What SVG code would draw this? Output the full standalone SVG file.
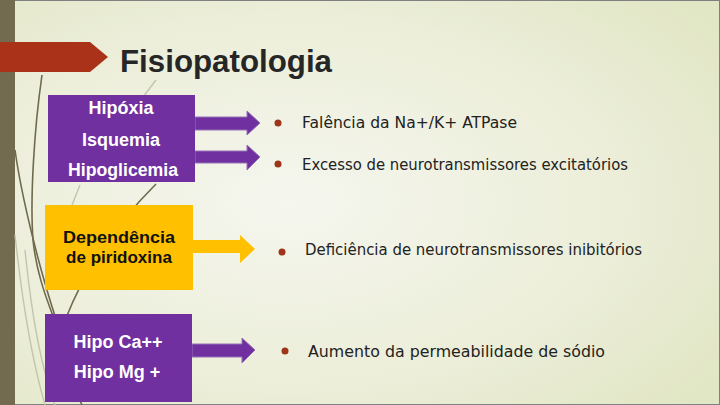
<svg xmlns="http://www.w3.org/2000/svg" width="720" height="405" viewBox="0 0 720 405">
<defs>
<radialGradient id="bg" cx="0.4" cy="0.5" r="0.75">
<stop offset="0" stop-color="#f5f6ee"/>
<stop offset="0.6" stop-color="#eceed9"/>
<stop offset="1" stop-color="#e1e6c4"/>
</radialGradient>
<style>
.box-p{fill:#7030a0}
.box-y{fill:#ffc000}
.arr-p{fill:#7030a0;stroke:#9670b8;stroke-width:1}
.arr-y{fill:#ffc000}
.lbl-w{font-family:"Liberation Sans",Arial,sans-serif;font-weight:bold;font-size:18px;fill:#ffffff;text-anchor:middle}
.lbl-k{font-family:"Liberation Sans",Arial,sans-serif;font-weight:bold;font-size:17px;fill:#111111;text-anchor:middle}
.bul{fill:#9e3418}
.btxt{font-family:"DejaVu Sans","Liberation Sans",sans-serif;font-size:15px;fill:#222222}
.wisp{fill:none;stroke:#6f6a4c;stroke-width:1.6}
.wisp2{fill:none;stroke:#c2c5ab;stroke-width:1.4}
</style>
</defs>
<rect x="0" y="0" width="720" height="405" fill="url(#bg)"/>
<rect x="0.5" y="0.5" width="719" height="404" fill="none" stroke="#808080" stroke-width="1"/>
<rect x="0" y="0" width="15" height="405" fill="#736b50"/>
<g id="wisps">
<path class="wisp2" d="M15,235 C22,300 32,360 45,405"/>
<path class="wisp2" d="M25,250 C32,320 42,370 55,405"/>
<path class="wisp2" d="M156,80 L143,97"/>
<path class="wisp2" d="M80,185 L72,205"/>
<path class="wisp" d="M42,75 C34,130 30,200 33,240 C36,270 45,295 53,316"/>
<path class="wisp" d="M15,150 C22,200 40,270 55,316"/>
<path class="wisp" d="M156,184 C115,225 85,270 66,318 C60,345 70,380 82,405"/>
</g>
<g id="title">
<path d="M0,42 L90,42 L108,57 L90,72 L0,72 Z" fill="#a93218"/>
<text x="120" y="72" font-family="Liberation Sans,Arial,sans-serif" font-weight="bold" font-size="31" fill="#262626" textLength="212" lengthAdjust="spacingAndGlyphs">Fisiopatologia</text>
</g>
<g id="connectors">
<path class="arr-p" d="M195,117 L247,117 L247,111 L260,123 L247,135 L247,130 L195,130 Z"/>
<path class="arr-p" d="M195,151 L247,151 L247,145 L260,157 L247,170 L247,163 L195,163 Z"/>
<path class="arr-y" d="M193,240 L240,240 L240,235 L255,249 L240,263 L240,253 L193,253 Z"/>
<path class="arr-p" d="M192,344 L242,344 L242,338 L255,350 L242,363 L242,357 L192,357 Z"/>
</g>
<g id="node-causas1">
<rect class="box-p" x="48" y="95" width="147" height="87"/>
<text class="lbl-w" x="121" y="114">Hipóxia</text>
<text class="lbl-w" x="121" y="146">Isquemia</text>
<text class="lbl-w" x="123" y="176" textLength="110" lengthAdjust="spacingAndGlyphs">Hipoglicemia</text>
</g>
<g id="node-causas2">
<rect class="box-y" x="45" y="205" width="148" height="85"/>
<text class="lbl-k" x="119" y="243" textLength="112" lengthAdjust="spacingAndGlyphs">Dependência</text>
<text class="lbl-k" x="119" y="263">de piridoxina</text>
</g>
<g id="node-causas3">
<rect class="box-p" x="45" y="314" width="147" height="88"/>
<text class="lbl-w" x="118" y="348">Hipo Ca++</text>
<text class="lbl-w" x="117" y="378">Hipo Mg +</text>
</g>
<g id="node-efeito1">
<circle class="bul" cx="278" cy="123" r="3.5"/>
<text class="btxt" x="302" y="128" textLength="215" lengthAdjust="spacingAndGlyphs">Falência da Na+/K+ ATPase</text>
</g>
<g id="node-efeito2">
<circle class="bul" cx="278" cy="164" r="3.5"/>
<text class="btxt" x="302" y="170" textLength="326" lengthAdjust="spacingAndGlyphs">Excesso de neurotransmissores excitatórios</text>
</g>
<g id="node-efeito3">
<circle class="bul" cx="282" cy="252" r="3.5"/>
<text class="btxt" x="305" y="255" textLength="337" lengthAdjust="spacingAndGlyphs">Deficiência de neurotransmissores inibitórios</text>
</g>
<g id="node-efeito4">
<circle class="bul" cx="285" cy="351" r="3.5"/>
<text class="btxt" x="308" y="357" textLength="297" lengthAdjust="spacingAndGlyphs">Aumento da permeabilidade de sódio</text>
</g>
</svg>
